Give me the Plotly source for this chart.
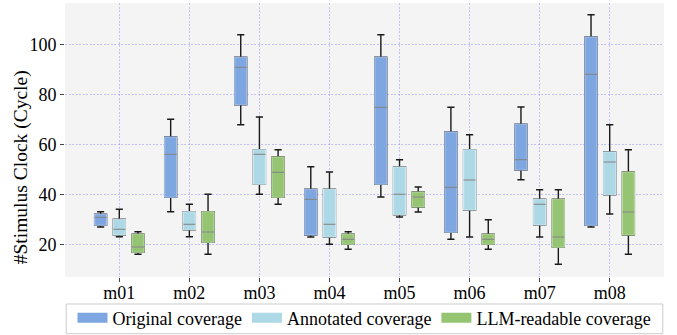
import plotly.graph_objects as go

categories = ["m01", "m02", "m03", "m04", "m05", "m06", "m07", "m08"]
series_names = ["Original coverage", "Annotated coverage", "LLM-readable coverage"]

# Original coverage
orig_low = [27.0, 33.1, 67.9, 23.0, 39.0, 22.1, 45.9, 27.0]
orig_q1 = [27.7, 38.9, 75.9, 23.8, 44.1, 24.9, 49.8, 27.7]
orig_med = [30.9, 56.1, 90.9, 38.1, 74.9, 42.9, 53.9, 88.1]
orig_q3 = [32.1, 63.0, 94.9, 42.1, 94.9, 65.0, 68.1, 103.0]
orig_high = [33.1, 70.1, 103.9, 51.1, 103.9, 74.9, 75.0, 111.9]

# Annotated coverage
anno_low = [23.1, 23.1, 40.1, 20.1, 31.0, 23.0, 23.0, 32.2]
anno_q1 = [23.8, 25.9, 44.1, 23.0, 31.9, 33.8, 27.8, 39.9]
anno_med = [26.1, 28.1, 56.1, 28.1, 40.1, 45.8, 36.1, 53.0]
anno_q3 = [30.1, 33.1, 57.9, 42.1, 51.0, 57.9, 38.1, 57.0]
anno_high = [34.1, 36.1, 71.0, 49.0, 53.9, 63.9, 41.9, 67.9]

# LLM-readable coverage
llm_low = [16.1, 16.1, 36.1, 18.1, 33.0, 18.1, 12.1, 16.1]
llm_q1 = [16.9, 20.9, 38.9, 20.1, 35.0, 20.1, 18.9, 23.8]
llm_med = [19.0, 25.0, 48.9, 22.1, 39.0, 22.1, 23.0, 33.0]
llm_q3 = [24.1, 33.1, 55.0, 24.1, 41.0, 24.1, 38.1, 49.0]
llm_high = [25.1, 40.1, 57.9, 25.1, 43.0, 29.9, 41.9, 57.9]

y_ticks = [20, 40, 60, 80, 100]

fills = ["#7EA6E0", "#ADD8E6", "#95C472"]
edges = ["#A9C3EA", "#CDE8F0", "#B9D9A2"]
FONT = "Times New Roman, Liberation Serif, DejaVu Serif, serif"
GRID = "rgba(120,120,255,0.40)"

data = [
    (orig_low, orig_q1, orig_med, orig_q3, orig_high),
    (anno_low, anno_q1, anno_med, anno_q3, anno_high),
    (llm_low, llm_q1, llm_med, llm_q3, llm_high),
]

fig = go.Figure()
for i, (lo, q1, med, q3, hi) in enumerate(data):
    grp = "g%d" % i
    # whiskers + caps (black)
    fig.add_trace(go.Box(
        x=categories, q1=q1, median=med, q3=q3, lowerfence=lo, upperfence=hi,
        offsetgroup=grp, alignmentgroup="a", showlegend=False,
        line=dict(color="#1a1a1a", width=1.4), fillcolor=fills[i],
        whiskerwidth=0.6, boxpoints=False, hoverinfo="skip",
    ))
    # box body
    fig.add_trace(go.Box(
        x=categories, q1=q1, median=med, q3=q3, lowerfence=q1, upperfence=q3,
        offsetgroup=grp, alignmentgroup="a", showlegend=False,
        line=dict(color=edges[i], width=1.2), fillcolor=fills[i],
        whiskerwidth=0, boxpoints=False, hoverinfo="skip",
    ))
    # median line (gray)
    fig.add_trace(go.Box(
        x=categories, q1=med, median=med, q3=med, lowerfence=med, upperfence=med,
        offsetgroup=grp, alignmentgroup="a", showlegend=False,
        line=dict(color="#7a7a7a", width=1.2), fillcolor="rgba(0,0,0,0)",
        whiskerwidth=0, boxpoints=False, hoverinfo="skip",
    ))

# legend entries
for i, name in enumerate(series_names):
    fig.add_trace(go.Scatter(
        x=[None], y=[None], mode="lines", name=name,
        line=dict(color=fills[i], width=13),
    ))

fig.update_layout(
    width=677, height=335,
    margin=dict(l=65, r=13, t=3, b=58, autoexpand=False),
    paper_bgcolor="white", plot_bgcolor="#F4F4F4",
    boxmode="group", boxgap=0.2, boxgroupgap=0.36,
    font=dict(family=FONT, size=18, color="black"),
    showlegend=True,
    legend=dict(
        orientation="h", x=0.5, xanchor="center", y=-0.1496, yanchor="middle",
        borderwidth=0, bgcolor="rgba(0,0,0,0)",
        font=dict(family=FONT, size=18), itemwidth=30,
        tracegroupgap=0,
    ),
    shapes=[dict(
        type="rect", xref="paper", yref="paper",
        x0=0.002, x1=0.998, y0=-0.0985, y1=-0.207,
        line=dict(color="#CCCCCC", width=1), fillcolor="rgba(0,0,0,0)",
        layer="below",
    )],
    annotations=[dict(
        text="#Stimulus Clock (Cycle)", textangle=-90,
        xref="paper", yref="paper", x=-0.072, y=0.40,
        xanchor="center", yanchor="middle", showarrow=False,
        font=dict(family=FONT, size=19.5, color="black"),
    )],
)
fig.update_xaxes(
    type="category", categoryorder="array", categoryarray=categories,
    range=[-0.775, 7.775],
    showgrid=True, gridcolor=GRID, griddash="2px,1.5px", gridwidth=1,
    ticks="outside", ticklen=4, tickcolor="#444444", tickwidth=1,
    ticklabelstandoff=-5,
    showline=False, zeroline=False,
    tickfont=dict(family=FONT, size=18),
)
fig.update_yaxes(
    range=[7, 116.6], tickvals=y_ticks, ticktext=[str(v) for v in y_ticks],
    showgrid=True, gridcolor=GRID, griddash="2px,1.5px", gridwidth=1,
    ticks="outside", ticklen=4, tickcolor="#444444", tickwidth=1,
    showline=False, zeroline=False,
    tickfont=dict(family=FONT, size=18),
)

fig.write_html("out.html")
